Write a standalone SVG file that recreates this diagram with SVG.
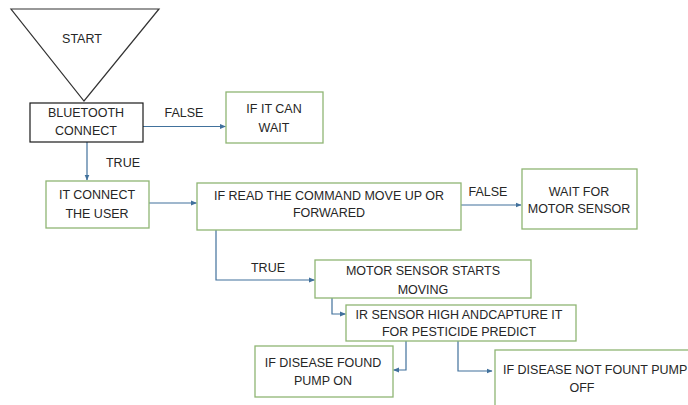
<svg xmlns="http://www.w3.org/2000/svg" width="688" height="405" viewBox="0 0 688 405">
<defs>
<style>
text{font-family:"Liberation Sans",Arial,sans-serif;font-size:12.5px;fill:#262626;text-anchor:middle;dominant-baseline:central}
.g{fill:#fff;stroke:#8fb573;stroke-width:1.3}
.k{fill:#fff;stroke:#1a1a1a;stroke-width:1.2}
.c{fill:none;stroke:#41719c;stroke-width:1.2}
</style>
<marker id="a" viewBox="0 0 6 6" refX="5.5" refY="3" markerWidth="6" markerHeight="6" markerUnits="userSpaceOnUse" orient="auto">
<path d="M0,0.5 L6,3 L0,5.5 z" fill="#41719c"/>
</marker>
</defs>
<rect width="688" height="405" fill="#fff"/>
<g id="connectors">
<path class="c" d="M143,126.5 H225.5" marker-end="url(#a)"/>
<path class="c" d="M87,142 V180" marker-end="url(#a)"/>
<path class="c" d="M149,203 H196.5" marker-end="url(#a)"/>
<path class="c" d="M461,205 H521" marker-end="url(#a)"/>
<path class="c" d="M216,230 V280 H314.5" marker-end="url(#a)"/>
<path class="c" d="M332,298 V314 H345.5" marker-end="url(#a)"/>
<path class="c" d="M406,341 V370 H393.5" marker-end="url(#a)"/>
<path class="c" d="M458,341 V371 H492" marker-end="url(#a)"/>
<text x="184" y="113">FALSE</text>
<text x="123" y="163">TRUE</text>
<text x="488" y="192">FALSE</text>
<text x="268" y="268">TRUE</text>
</g>
<g id="start">
<path d="M11,9 H159 L84,101 Z" fill="#fff" stroke="#333" stroke-width="1.2"/>
<text x="82" y="39">START</text>
</g>
<g id="bluetooth">
<rect class="k" x="30" y="103" width="113" height="39"/>
<text x="86" y="113">BLUETOOTH</text>
<text x="86" y="131">CONNECT</text>
</g>
<g id="wait">
<rect class="g" x="226" y="92" width="97" height="51"/>
<text x="274" y="109">IF IT CAN</text>
<text x="274" y="128">WAIT</text>
</g>
<g id="connect-user">
<rect class="g" x="46" y="181" width="103" height="47"/>
<text x="97" y="195">IT CONNECT</text>
<text x="97" y="214">THE USER</text>
</g>
<g id="read-command">
<rect class="g" x="197" y="183" width="264" height="47"/>
<text x="329" y="196">IF READ THE COMMAND MOVE UP OR</text>
<text x="329" y="213">FORWARED</text>
</g>
<g id="wait-motor">
<rect class="g" x="522" y="169" width="115" height="60"/>
<text x="579" y="192">WAIT FOR</text>
<text x="579" y="209">MOTOR SENSOR</text>
</g>
<g id="motor-start">
<rect class="g" x="315" y="260" width="216" height="38"/>
<text x="423" y="271">MOTOR SENSOR STARTS</text>
<text x="423" y="290">MOVING</text>
</g>
<g id="ir-sensor">
<rect class="g" x="346" y="305" width="230" height="36"/>
<text x="459" y="315">IR SENSOR HIGH ANDCAPTURE IT</text>
<text x="459" y="332">FOR PESTICIDE PREDICT</text>
</g>
<g id="pump-on">
<rect class="g" x="255" y="346" width="138" height="51"/>
<text x="323" y="363">IF DISEASE FOUND</text>
<text x="323" y="381">PUMP ON</text>
</g>
<g id="pump-off">
<rect class="g" x="495" y="350" width="220" height="70"/>
<text x="503" y="370" style="text-anchor:start">IF DISEASE NOT FOUNT PUMP</text>
<text x="582" y="388">OFF</text>
</g>
</svg>
